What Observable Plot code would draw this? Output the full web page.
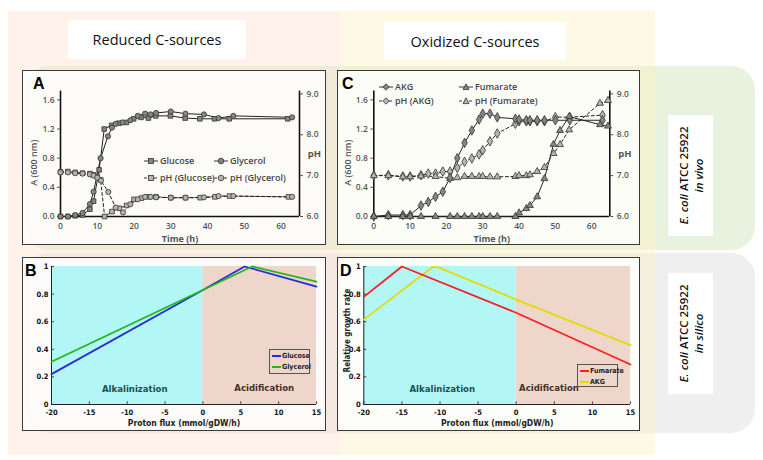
<!DOCTYPE html>
<html><head><meta charset="utf-8">
<script src="https://cdn.jsdelivr.net/npm/d3@7"></script>
<script src="https://cdn.jsdelivr.net/npm/@observablehq/plot@0.6"></script>
<style>
body{margin:0;background:#fff;}
#root{position:relative;width:763px;height:460px;overflow:hidden;font-family:"Open Sans",sans-serif;}
.abs{position:absolute;}
.panel{position:absolute;box-sizing:border-box;border:1.5px solid #3a3a3a;background:rgba(255,255,255,0.82);}
.plt{position:absolute;overflow:visible;}
.lbl{position:absolute;font-family:"Liberation Sans",Arial,sans-serif;font-weight:bold;font-size:16px;color:#000;}
.hdr{position:absolute;background:#fff;display:flex;align-items:center;justify-content:center;font-size:14.5px;color:#111;font-family:"Open Sans",sans-serif;}
.side{position:absolute;background:#fff;width:121px;height:45px;transform:rotate(-90deg);display:flex;flex-direction:column;align-items:center;justify-content:center;font-size:11.5px;font-weight:600;line-height:15px;color:#111;}
.leg{position:absolute;display:flex;align-items:center;font-size:9px;font-weight:600;color:#444;white-space:nowrap;}
.leg2{position:absolute;box-sizing:border-box;border:1px solid #555;}
.leg2 div{position:absolute;font-family:"DejaVu Sans Condensed","Liberation Sans Narrow",sans-serif;font-weight:bold;font-size:7px;color:#222;white-space:nowrap;}
</style></head><body><div id="root"></div><script>
// ---------- Panel A (in vivo, reduced C-sources) ----------
const glucoseTime = [0,2,4,6,8,9,10.5,11.9,13.9,15.9,17.9,19.9,21.9,23.9,25.9,29.9,33.9,37.9,41.9,45.9,61.8];
const glucoseOD   = [0,0,0.01,0.02,0.1,0.21,0.64,1.2,1.25,1.28,1.29,1.34,1.36,1.35,1.38,1.38,1.35,1.34,1.34,1.34,1.34];
const glycerolTime = [0,2,4,6,8,9,10.9,12.9,14,15,16.9,19,21,23,24.5,26,30,34,39,43,47,63];
const glycerolOD   = [0,0,0.02,0.05,0.17,0.34,0.8,1.1,1.22,1.27,1.29,1.32,1.38,1.41,1.4,1.42,1.44,1.41,1.4,1.35,1.38,1.36];
const phGlucoseTime = [0,2,4,6,8,9,10,10.9,12,14,16,18,20,22,24,26,30,34,38,42,46,62];
const phGlucose     = [7.09,7.1,7.08,7.06,7.05,7.02,6.98,6.9,6.0,6.12,6.2,6.27,6.42,6.45,6.48,6.48,6.46,6.46,6.46,6.48,6.5,6.48];
const phGlycerolTime = [0,2,4,6,8,9,10,11,13,15,17,19,21,23,24.5,26,30,34,39,43,47,63];
const phGlycerol     = [7.08,7.08,7.06,7.05,7.03,7.0,6.95,6.88,6.6,6.22,6.1,6.3,6.42,6.48,6.48,6.47,6.46,6.46,6.47,6.5,6.5,6.48];
// ---------- Panel C (in vivo, oxidized C-sources) ----------
const akgTime = [0,4,8,10,13,15,17,19,21,23,25,27,29,30,32,34,39,40,42,43,45,47,50,54,63];
const akgOD   = [0,0.02,0.02,0.02,0.15,0.2,0.27,0.34,0.53,0.8,1.01,1.18,1.33,1.41,1.41,1.36,1.34,1.33,1.32,1.32,1.32,1.32,1.32,1.32,1.32];
const fumTime = [0,4,8,10,13,17,21,23,25,27,29,30,32,34,39,40,42,43,45,47,49.5,51.3,53.8,62.3,64.5];
const fumOD   = [0,0,0,0,0,0,0,0,0,0,0,0,0,0,0,0.05,0.11,0.15,0.27,0.52,0.99,1.18,1.37,1.26,1.24];
const phAkgTime = [0,4,8,10,13,15,17,19,21,23,25,27,29,30,32,34,39,40,42,43,45,47,50,54,63];
const phAkg     = [7.0,7.01,6.98,6.98,7.01,7.05,7.05,7.1,7.1,7.19,7.34,7.42,7.52,7.62,7.84,8.03,8.27,8.33,8.33,8.33,8.33,8.33,8.43,8.43,8.48];
const phFumTime = [0,4,8,10,13,17,21,23,25,27,29,30,32,34,39,40,42,43,45,47,49.5,51.3,53.8,62.3,64.5];
const phFum     = [7.0,7.0,6.97,6.97,6.99,6.98,6.93,6.95,6.98,6.98,6.98,6.98,6.97,6.97,6.98,7.0,7.0,7.02,7.1,7.2,7.54,7.76,8.12,8.77,8.84];
// ---------- Panels B and D (in silico) ----------
const fluxGlucose  = [-20,0,5.5,15];
const rateGlucose  = [0.22,0.83,1.0,0.855];
const fluxGlycerol = [-20,0,6.5,15];
const rateGlycerol = [0.31,0.83,1.0,0.89];
const fluxFumarate = [-20,-15,0,15];
const rateFumarate = [0.78,1.0,0.665,0.29];
const fluxAkg = [-20,-11,-10.3,0,15];
const rateAkg = [0.615,0.995,0.995,0.76,0.43];
// ---------- ticks, regions, labels ----------
const timeTicks = [0,10,20,30,40,50,60];
const odTicks = [0,0.4,0.8,1.2,1.6];
const phTicks = [6,7,8,9];
const fluxTicks = [-20,-15,-10,-5,0,5,10,15];
const rateTicks = [0,0.2,0.4,0.6,0.8,1];
const regionNames = ["Alkalinization","Acidification"];
const regionFrom = [-20,0];
const regionTo = [0,15];
const regionLabelFluxB = [-9,8.1];
const regionLabelFluxD = [-9.7,4.3];
const regionLabelRate = [0.115,0.12];

const root = document.getElementById("root");
function el(cls, css, html){const d=document.createElement("div");d.className=cls;Object.assign(d.style,css);if(html!==undefined)d.innerHTML=html;root.appendChild(d);return d;}

// backgrounds
el("abs",{left:"25px",top:"66px",width:"730px",height:"184px",background:"#e8f3df",borderRadius:"24px"});
el("abs",{left:"25px",top:"253px",width:"730px",height:"180px",background:"#efefef",borderRadius:"24px"});
el("abs",{left:"8px",top:"11px",width:"332px",height:"444px",background:"rgba(252,222,200,0.38)"});
el("abs",{left:"340px",top:"11px",width:"315px",height:"444px",background:"rgba(252,240,190,0.42)"});
el("hdr",{left:"68px",top:"20px",width:"178px",height:"39px"},"Reduced C-sources");
el("hdr",{left:"384px",top:"22px",width:"182px",height:"38px"},"Oxidized C-sources");
el("side",{left:"630px",top:"153px"},"<div><i>E. coli</i> ATCC 25922</div><div><i>in vivo</i></div>");
el("side",{left:"630px",top:"311px"},"<div><i>E. coli</i> ATCC 25922</div><div><i>in silico</i></div>");

const k = 1.682/3;
const toA = p => (p-6)*k;
const fromA = a => a/k+6;
const rows = (t,v) => t.map((x,i)=>({x, y:v[i]}));
const phRows = (t,v) => t.map((x,i)=>({x, y:toA(v[i])}));

const tickStyle = {fontFamily:"Open Sans, sans-serif", fontSize:"8.5px", fontWeight:600, color:"#555", background:"transparent", overflow:"visible"};

function vivoPanel(opts){
  const marks = [
    Plot.ruleY([0],{stroke:"#111",strokeWidth:1.6}),
    Plot.ruleX([0],{stroke:"#111",strokeWidth:1.6}),
    Plot.ruleX([65],{stroke:"#111",strokeWidth:1.6}),
    Plot.axisX({ticks:timeTicks,tickSize:0,tickPadding:6,tickFormat:d=>String(d),label:null}),
    Plot.axisY({ticks:odTicks,tickSize:3,tickPadding:3,tickFormat:d=>d.toFixed(1),label:null}),
    Plot.axisY(phTicks.map(toA),{anchor:"right",tickSize:3,tickPadding:4,tickFormat:d=>fromA(d).toFixed(1),label:null}),
  ];
  for(const s of opts.series){
    marks.push(Plot.line(s.data,{x:"x",y:"y",stroke:"#222",strokeWidth:1,strokeDasharray:s.dash?"3,2.5":null}));
  }
  for(const s of opts.series){
    marks.push(Plot.dot(s.data,{x:"x",y:"y",symbol:s.symbol,r:s.r||2.6,fill:s.dash?"#b4b4b4":"#858585",stroke:"#333",strokeWidth:0.8}));
  }
  marks.push(Plot.text(["Time (h)"],{frameAnchor:"bottom",dy:22.5,lineAnchor:"middle",fontSize:9,fontWeight:700,fill:"#555"}));
  marks.push(Plot.text(["A (600 nm)"],{frameAnchor:"left",textAnchor:"middle",dx:-26,dy:9,rotate:-90,fontSize:9,fill:"#555"}));
  marks.push(Plot.text(["pH"],{frameAnchor:"right",textAnchor:"middle",dx:15,fontSize:9.5,fontWeight:700,fill:"#555"}));
  return Plot.plot({
    width:opts.w,height:175,marginLeft:opts.ml,marginRight:opts.mr,marginTop:20.6,marginBottom:29,
    x:{domain:[0,65]},y:{domain:[0,1.72]},style:tickStyle,marks
  });
}

function placePanel(x,y,w,h,svg,letter,lx,ly){
  el("panel",{left:x+"px",top:y+"px",width:w+"px",height:h+"px"});
  svg.classList.add("plt");svg.style.left=x+"px";svg.style.top=y+"px";
  root.appendChild(svg);
  el("lbl",{left:lx+"px",top:ly+"px"},letter);
}

const pA = vivoPanel({w:304,ml:38,mr:27,series:[
  {data:phRows(phGlucoseTime,phGlucose),symbol:"square",dash:true},
  {data:phRows(phGlycerolTime,phGlycerol),symbol:"circle",dash:true},
  {data:rows(glucoseTime,glucoseOD),symbol:"square"},
  {data:rows(glycerolTime,glycerolOD),symbol:"circle"}]});
placePanel(22,70,304,175,pA,"A",33,75);

const pC = vivoPanel({w:303,ml:36.3,mr:30.7,series:[
  {data:phRows(phAkgTime,phAkg),symbol:"diamond",dash:true,r:2.9},
  {data:phRows(phFumTime,phFum),symbol:"triangle",dash:true},
  {data:rows(akgTime,akgOD),symbol:"diamond",r:2.9},
  {data:rows(fumTime,fumOD),symbol:"triangle"}]});
placePanel(337,70,303,175,pC,"C",342,75);

// legends for A, C
function legItem(x,y,text,symbol,dash){
  const sy = 5;
  const f = dash?'#b4b4b4':'#858585';
  let m="";
  if(symbol==="square") m=`<rect x="4.5" y="2.5" width="5" height="5" fill="${f}" stroke="#333" stroke-width="0.8"/>`;
  if(symbol==="circle") m=`<circle cx="7" cy="5" r="2.8" fill="${f}" stroke="#333" stroke-width="0.8"/>`;
  if(symbol==="diamond") m=`<path d="M7 1.8L10.2 5L7 8.2L3.8 5Z" fill="${f}" stroke="#333" stroke-width="0.8"/>`;
  if(symbol==="triangle") m=`<path d="M7 1.8L10 7.6L4 7.6Z" fill="${f}" stroke="#333" stroke-width="0.8"/>`;
  el("leg",{left:x+"px",top:(y-7)+"px",height:"14px"},
    `<svg width="15" height="10" style="margin-right:1px"><line x1="0" x2="14" y1="${sy}" y2="${sy}" stroke="#333" stroke-width="1" ${dash?'stroke-dasharray="3,2"':''}/>${m}</svg><span>${text}</span>`);
}
legItem(144,160.5,"Glucose","square",false);
legItem(214,160.5,"Glycerol","circle",false);
legItem(144,177.5,"pH (Glucose)","square",true);
legItem(214,177.5,"pH (Glycerol)","circle",true);
legItem(379,86.5,"AKG","diamond",false);
legItem(459,86.5,"Fumarate","triangle",false);
legItem(379,100.5,"pH (AKG)","diamond",true);
legItem(459,100.5,"pH (Fumarate)","triangle",true);

// ---------- in silico panels ----------
const regionColors = ["#b2f6f6","#efd6cb"];
const regions = regionNames.map((n,i)=>({name:n,x1:regionFrom[i],x2:regionTo[i]}));
const siliStyle = {fontFamily:"'DejaVu Sans Condensed','Liberation Sans Narrow',sans-serif",fontSize:"7.5px",fontWeight:"bold",color:"#111",background:"transparent",overflow:"visible"};

function silicoPanel(opts){
  const lbls = regionNames.map((n,i)=>({name:n,x:opts.lblX[i],y:regionLabelRate[i]}));
  const marks = [
    Plot.rect(regions,{x1:"x1",x2:"x2",y1:()=>0,y2:()=>1,fill:(d,i)=>regionColors[i]}),
    Plot.ruleX([-20],{stroke:"#222",strokeWidth:1}),
    Plot.ruleY([0],{stroke:"#222",strokeWidth:1}),
    Plot.ruleX(fluxTicks,{y1:0,y2:0.02,stroke:"#222",strokeWidth:0.8}),
    Plot.ruleY(rateTicks,{x1:-20,x2:-19.6,stroke:"#222",strokeWidth:0.8}),
    Plot.axisX({ticks:fluxTicks,tickSize:0,tickPadding:5,tickFormat:d=>String(d),label:null}),
    Plot.axisY({ticks:rateTicks,tickSize:0,tickPadding:3,tickFormat:d=>String(d),label:null}),
    Plot.text(lbls,{x:"x",y:"y",text:"name",fill:(d,i)=>i===0?"#1d4f4f":"#4a2f2a",fontSize:9.5}),
    ...opts.series.map(s=>Plot.line(s.data,{x:"x",y:"y",stroke:s.color,strokeWidth:1.8})),
    Plot.text(["Proton flux (mmol/gDW/h)"],{frameAnchor:"bottom",dy:19,lineAnchor:"middle",fontSize:8.5,fill:"#222"})
  ];
  if(opts.ylabel) marks.push(Plot.text(["Relative growth rate"],{frameAnchor:"left",textAnchor:"middle",dx:-16,dy:-5,rotate:-90,fontSize:8,fill:"#222"}));
  return Plot.plot({
    width:opts.w,height:174,marginLeft:opts.ml,marginRight:10,marginTop:9,marginBottom:27,
    x:{domain:[-20,15]},y:{domain:[0,1]},style:siliStyle,marks
  });
}
const pB = silicoPanel({w:304,ml:29,lblX:regionLabelFluxB,ylabel:false,series:[
  {data:rows(fluxGlucose,rateGlucose),color:"#2a2ad6"},
  {data:rows(fluxGlycerol,rateGlycerol),color:"#1fb81f"}]});
placePanel(22,257,304,174,pB,"B",25,262);
const pD = silicoPanel({w:303,ml:26.3,lblX:regionLabelFluxD,ylabel:true,series:[
  {data:rows(fluxAkg,rateAkg),color:"#e3dc00"},
  {data:rows(fluxFumarate,rateFumarate),color:"#f52222"}]});
placePanel(337,257,303,174,pD,"D",340,262);

function leg2(x,y,w,h,items){
  const b = el("leg2",{left:x+"px",top:y+"px",width:w+"px",height:h+"px"});
  items.forEach((it,i)=>{
    const line=document.createElement("div");
    Object.assign(line.style,{left:"2px",top:(5+i*11)+"px",width:"9px",height:"2px",background:it.c});
    b.appendChild(line);
    const t=document.createElement("div");
    Object.assign(t.style,{left:"12px",top:(1+i*11)+"px",lineHeight:"10px"});
    t.textContent=it.n;b.appendChild(t);
  });
}
leg2(269,349,41,25,[{n:"Glucose",c:"#2a2ad6"},{n:"Glycerol",c:"#1fb81f"}]);
leg2(577,364,41,23,[{n:"Fumarate",c:"#f52222"},{n:"AKG",c:"#e3dc00"}]);
</script></body></html>
